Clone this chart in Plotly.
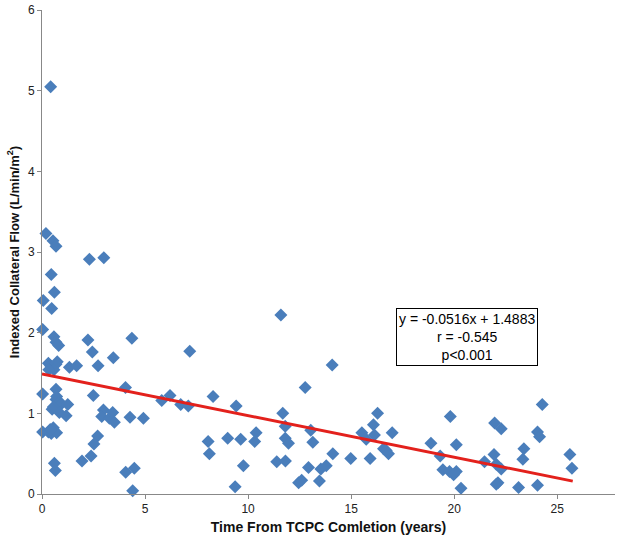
import plotly.graph_objects as go

# Time from TCPC completion (years)
time_years = [
    0.42, 0.19, 0.53, 0.68, 0.45, 0.60, 0.06, 0.47, 0.03, 0.58, 0.68, 0.81,
    2.30, 3.00, 2.23, 2.44, 3.46, 4.36, 2.72,
    0.31, 0.42, 0.68, 0.74, 0.58, 0.33, 1.33, 1.68,
    0.03, 0.68, 0.71, 2.49, 4.05,
    0.68, 0.81, 0.95, 1.25, 0.55, 0.49, 0.84, 1.17,
    2.98, 2.90, 3.27, 3.43, 3.51, 4.27, 4.92,
    0.03, 0.31, 0.45, 0.55, 0.71, 0.40,
    2.70, 2.52, 2.38, 1.94, 0.60, 0.65, 4.06, 4.48, 4.40,
    7.17, 5.81, 6.21, 6.73, 7.10, 8.30, 9.42,
    8.06, 8.12, 9.01, 9.64, 10.39, 10.32, 9.77, 9.37,
    11.59, 14.08, 12.77, 11.68, 11.80, 11.80, 11.96, 13.04, 13.14, 14.11,
    11.39, 11.81, 12.93, 13.53, 13.79, 12.45, 12.60, 13.46,
    14.98, 15.52, 16.08, 16.28, 16.13, 15.73, 16.99, 15.92, 16.57, 16.70, 16.81,
    24.27, 19.81, 21.96, 22.28, 24.04, 24.14, 18.87, 20.10, 19.32, 21.93,
    23.38, 23.33, 25.61, 25.71, 21.47, 22.04, 22.28, 19.45, 19.77, 19.97,
    20.10, 20.33, 22.04, 22.12, 23.12, 24.04,
]

# Indexed collateral flow (L/min/m2)
collateral_flow = [
    5.05, 3.23, 3.14, 3.07, 2.72, 2.50, 2.40, 2.30, 2.04, 1.95, 1.88, 1.84,
    2.91, 2.93, 1.91, 1.76, 1.69, 1.93, 1.59,
    1.62, 1.59, 1.61, 1.64, 1.54, 1.54, 1.57, 1.59,
    1.24, 1.30, 1.21, 1.22, 1.32,
    1.17, 1.13, 1.12, 1.11, 1.08, 1.05, 1.01, 0.97,
    1.04, 0.96, 0.94, 1.01, 0.89, 0.95, 0.94,
    0.77, 0.77, 0.75, 0.82, 0.76, 0.80,
    0.72, 0.62, 0.47, 0.41, 0.38, 0.29, 0.27, 0.32, 0.04,
    1.77, 1.16, 1.22, 1.11, 1.09, 1.21, 1.09,
    0.65, 0.50, 0.69, 0.68, 0.76, 0.65, 0.35, 0.09,
    2.22, 1.60, 1.32, 1.00, 0.84, 0.69, 0.63, 0.79, 0.64, 0.50,
    0.40, 0.41, 0.33, 0.31, 0.35, 0.14, 0.17, 0.16,
    0.44, 0.76, 0.86, 1.00, 0.73, 0.68, 0.76, 0.44, 0.56, 0.54, 0.50,
    1.11, 0.96, 0.88, 0.81, 0.77, 0.71, 0.63, 0.61, 0.47, 0.49,
    0.56, 0.43, 0.49, 0.32, 0.40, 0.37, 0.31, 0.30, 0.28, 0.24,
    0.28, 0.07, 0.12, 0.14, 0.08, 0.11,
]

# Regression line (from the chart's equation)
slope = -0.0516
intercept = 1.4883
fit_x = [0, 25.75]
fit_y = [intercept + slope * x for x in fit_x]

x_ticks = [0, 5, 10, 15, 20, 25]
y_ticks = [0, 1, 2, 3, 4, 5, 6]

fig = go.Figure()
fig.add_trace(go.Scatter(
    x=time_years, y=collateral_flow, mode="markers",
    marker=dict(symbol="diamond", size=10, color="#4A7EBB"),
    showlegend=False, cliponaxis=False,
))
fig.add_trace(go.Scatter(
    x=fit_x, y=fit_y, mode="lines",
    line=dict(color="#E3211C", width=3),
    showlegend=False,
))

fig.add_annotation(
    x=20.6, y=1.95, xref="x", yref="y",
    text="y = -0.0516x + 1.4883<br>r = -0.545<br>p<0.001",
    showarrow=False, align="center",
    font=dict(family="Liberation Sans, Arial", size=14, color="#000"),
    bordercolor="#000", borderwidth=1, borderpad=2, bgcolor="white",
)

axis_font = dict(family="Liberation Sans, Arial", size=12, color="#222")
fig.update_layout(
    width=624, height=542,
    margin=dict(l=42, r=9, t=10, b=48),
    paper_bgcolor="white", plot_bgcolor="white",
    font=dict(family="Liberation Sans, Arial"),
    xaxis=dict(
        range=[0, 27.8], tickvals=x_ticks, ticks="outside", ticklen=4,
        tickcolor="#888", showline=True, linecolor="#888", linewidth=1,
        showgrid=False, zeroline=False, tickfont=axis_font, automargin=False,
        title=dict(text="<b>Time From TCPC Comletion (years)</b>",
                   font=dict(size=14, color="#111"), standoff=6),
    ),
    yaxis=dict(
        range=[0, 6], tickvals=y_ticks, ticks="outside", ticklen=4,
        tickcolor="#888", showline=True, linecolor="#888", linewidth=1,
        showgrid=False, zeroline=False, tickfont=axis_font, automargin=False,
        title=dict(text="<b>Indexed Collateral Flow (L/min/m<sup>2</sup>)</b>",
                   font=dict(size=13, color="#111"), standoff=5),
    ),
)

# Remove the browser's default 8px body margin so the figure fills the window.
fig.write_html(
    "out.html",
    config={"displayModeBar": False},
    post_script="document.body.style.margin='0';document.body.style.overflow='hidden';",
)
